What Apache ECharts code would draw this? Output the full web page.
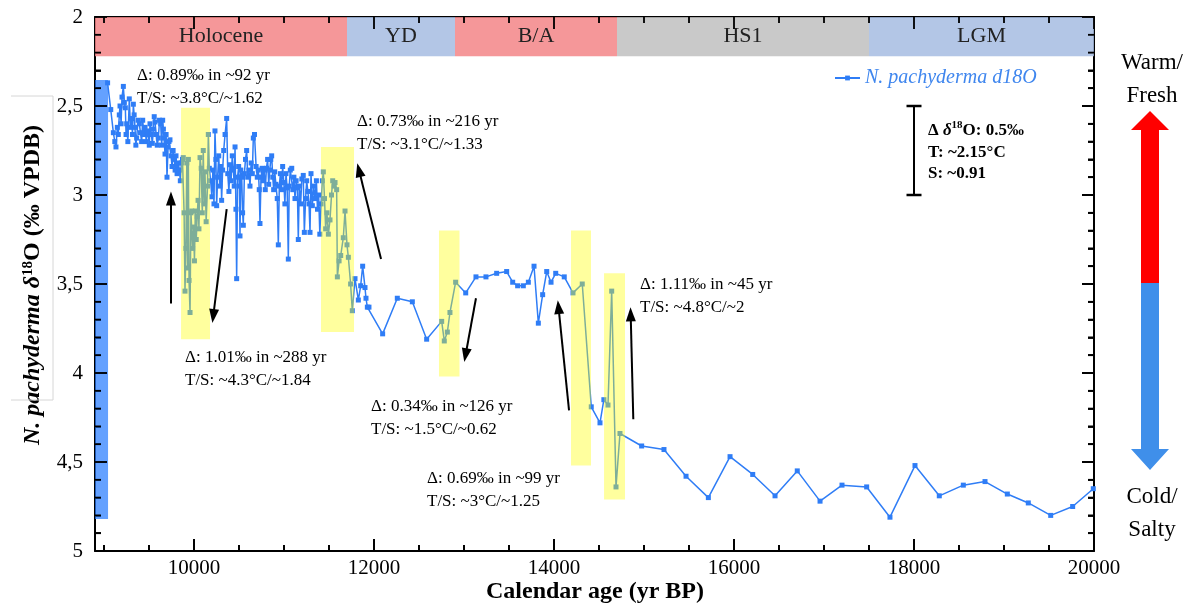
<!DOCTYPE html>
<html>
<head>
<meta charset="utf-8">
<script src="https://cdn.jsdelivr.net/npm/echarts@6/dist/echarts.min.js"></script>
<style>
  html, body { margin: 0; padding: 0; background: #fff; }
  #chart { width: 1194px; height: 610px; }
</style>
</head>
<body>
<div id="chart"></div>
<script>
// N. pachyderma d18O record: [calendar age (yr BP), d18O (permil VPDB)]
const record = [
  [9040,2.37],[9075,2.52],[9104,2.65],[9120,2.70],[9133,2.73],[9148,2.62],[9159,2.66],[9170,2.55],[9178,2.50],[9190,2.60],
  [9200,2.45],[9215,2.39],[9226,2.48],[9237,2.51],[9245,2.66],[9252,2.60],[9265,2.70],[9281,2.46],[9294,2.62],[9307,2.57],
  [9316,2.66],[9326,2.49],[9335,2.55],[9344,2.62],[9354,2.72],[9363,2.68],[9378,2.58],[9393,2.60],[9405,2.65],[9418,2.70],
  [9430,2.58],[9443,2.66],[9456,2.62],[9470,2.70],[9482,2.64],[9493,2.66],[9503,2.72],[9511,2.60],[9526,2.66],[9537,2.71],
  [9548,2.63],[9558,2.56],[9567,2.59],[9580,2.66],[9592,2.72],[9604,2.68],[9617,2.58],[9630,2.60],[9641,2.72],[9652,2.58],
  [9660,2.63],[9667,2.68],[9678,2.77],[9690,2.66],[9700,2.90],[9712,2.73],[9722,2.70],[9733,2.69],[9745,2.78],[9756,2.84],
  [9768,2.75],[9780,2.80],[9790,2.86],[9800,2.78],[9812,2.88],[9825,2.82],[9838,2.86],[9848,2.92],[9860,2.82],
  [9872,2.80],[9881,2.79],[9890,3.10],[9900,3.54],[9910,3.30],[9920,2.82],[9930,3.41],[9937,2.80],[9945,3.48],[9956,3.66],
  [9966,3.10],[9975,3.09],[9985,3.30],[9995,3.18],[10005,3.37],[10015,3.09],[10025,3.25],[10035,3.12],[10045,3.03],[10055,3.19],
  [10067,2.79],[10080,2.85],[10092,3.10],[10103,2.75],[10113,3.05],[10122,2.87],[10135,3.15],[10150,2.95],[10159,2.66],[10170,2.85],
  [10185,2.92],[10198,3.01],[10210,2.86],[10222,3.05],[10233,2.64],[10243,2.80],[10252,3.06],[10262,2.90],[10275,2.78],[10288,2.95],
  [10298,2.84],[10307,3.03],[10318,2.86],[10330,2.75],[10345,2.66],[10363,2.57],[10375,2.88],[10388,2.98],[10400,2.83],[10412,2.92],
  [10425,2.78],[10438,2.86],[10447,2.95],[10456,2.73],[10466,3.08],[10474,3.47],[10484,2.90],[10496,2.84],[10505,2.95],[10511,3.23],
  [10520,2.86],[10530,2.90],[10540,3.10],[10548,3.17],[10560,2.88],[10572,2.80],[10585,2.75],[10597,2.90],[10610,2.86],[10622,2.95],
  [10635,2.82],[10648,2.88],[10659,2.68],[10672,2.66],[10690,2.84],[10703,2.90],[10715,2.86],[10725,2.97],[10733,3.16],[10745,2.90],
  [10757,2.85],[10768,2.92],[10780,2.86],[10792,2.97],[10805,2.85],[10818,2.80],[10830,2.94],[10842,2.86],[10853,2.80],[10863,2.78],
  [10875,2.90],[10885,2.97],[10897,2.87],[10910,2.94],[10925,3.02],[10937,3.28],[10948,2.95],[10960,2.88],[10972,2.97],[10985,2.84],
  [10998,2.93],[11010,3.05],[11022,2.88],[11035,2.96],[11048,3.36],[11058,2.95],[11070,2.86],[11086,2.85],[11098,2.97],[11110,2.90],
  [11122,3.02],[11135,2.92],[11148,2.96],[11159,3.25],[11170,2.95],[11185,3.05],[11198,2.91],[11214,2.89],[11226,3.21],[11240,3.02],
  [11252,2.92],[11265,2.98],[11278,3.05],[11289,3.21],[11300,2.88],[11315,3.06],[11330,2.95],[11345,3.02],[11360,2.92],[11372,3.08],
  [11385,3.00],[11398,3.22],[11412,3.05],
  [11426,2.92],[11437,2.87],[11450,3.02],[11463,3.19],[11477,3.10],[11493,3.22],[11511,3.14],[11528,3.00],[11541,2.92],[11556,2.95],
  [11567,2.93],[11585,2.97],[11593,3.46],[11612,3.37],[11630,3.34],[11659,3.24],[11678,3.09],[11700,3.28],[11715,3.35],[11740,3.50],
  [11759,3.65],[11789,3.47],[11826,3.59],[11852,3.51],[11874,3.40],[11900,3.52],[11911,3.58],[11926,3.63],[11944,3.63],
  [12096,3.78],[12259,3.58],[12426,3.60],[12585,3.81],[12752,3.71],[12781,3.82],[12815,3.77],[12844,3.66],[12907,3.49],
  [13019,3.55],[13133,3.46],[13244,3.46],[13363,3.44],[13474,3.43],[13541,3.49],[13596,3.51],[13659,3.51],[13715,3.49],
  [13778,3.40],[13826,3.72],[13874,3.56],[13919,3.43],[13967,3.49],[14019,3.44],[14114,3.46],[14211,3.55],[14314,3.50],
  [14414,4.19],[14511,4.28],[14554,4.15],[14600,4.18],[14641,3.54],[14689,4.64],[14733,4.34],[14974,4.41],[15222,4.43],
  [15467,4.58],[15715,4.70],[15956,4.47],[16208,4.57],[16456,4.69],[16703,4.55],[16956,4.72],[17200,4.63],[17474,4.64],
  [17733,4.81],[18011,4.52],[18281,4.69],[18548,4.63],[18789,4.61],[19037,4.68],[19270,4.73],[19519,4.80],[19763,4.75],[19992,4.65]
];

// climate periods along the top
const periodNames = ['Holocene', 'YD', 'B/A', 'HS1', 'LGM'];
const periodEdges = [8900, 11700, 12900, 14700, 17500, 20000];

// highlighted transitions: [age from, age to, d18O top, d18O bottom]
const windows = [
  [9856, 10178, 2.51, 3.81],
  [11411, 11778, 2.73, 3.77],
  [12722, 12950, 3.20, 4.02],
  [14189, 14411, 3.20, 4.52],
  [14556, 14789, 3.44, 4.71]
];

// left range bar: [age from, age to, d18O top, d18O bottom]
const rangeBar = [8900, 9045, 2.354, 4.82];

// arrows: [age tail, d18O tail, age tip, d18O tip]
const arrows = [
  [9744, 3.61, 9744, 3.02],
  [10363, 3.08, 10214, 3.68],
  [12078, 3.36, 11833, 2.86],
  [13133, 3.58, 13017, 3.90],
  [14167, 4.21, 14050, 3.63],
  [14881, 4.26, 14852, 3.67]
];

// scale bar: 0.5 permil at 18000 yr
const scaleBar = [18000, 2.5, 3.0];

const notes = [
  'Δ: 0.89‰ in ~92 yr\nT/S: ~3.8°C/~1.62',
  'Δ: 0.73‰ in ~216 yr\nT/S: ~3.1°C/~1.33',
  'Δ: 1.01‰ in ~288 yr\nT/S: ~4.3°C/~1.84',
  'Δ: 0.34‰ in ~126 yr\nT/S: ~1.5°C/~0.62',
  'Δ: 0.69‰ in ~99 yr\nT/S: ~3°C/~1.25',
  'Δ: 1.11‰ in ~45 yr\nT/S: ~4.8°C/~2'
];
const notePos = [[137, 64], [357, 110], [185, 346], [371, 395], [427, 467], [640, 273]];

// tick positions
const majorAges = [10000, 12000, 14000, 16000, 18000, 20000];
const minorAges = [9000, 9500, 10500, 11000, 11500, 12500, 13000, 13500, 14500, 15000, 15500,
  16500, 17000, 17500, 18500, 19000, 19500];
const majorD18O = [2, 2.5, 3, 3.5, 4, 4.5, 5];
const minorD18O = [2.1, 2.2, 2.3, 2.4, 2.6, 2.7, 2.8, 2.9, 3.1, 3.2, 3.3, 3.4, 3.6, 3.7, 3.8, 3.9,
  4.1, 4.2, 4.3, 4.4, 4.6, 4.7, 4.8, 4.9];

const serif = 'Liberation Serif';
const xMin = 8900, xMax = 20000, yMin = 2, yMax = 5;
const chart = echarts.init(document.getElementById('chart'));

function xAx(pos, ticks, len, withLine) {
  return {
    type: 'value', position: pos, min: xMin, max: xMax,
    axisLine: { show: withLine, lineStyle: { color: '#000', width: 2 } },
    axisTick: { show: true, inside: true, length: len, customValues: ticks, lineStyle: { color: '#000', width: 1.8 } },
    axisLabel: { show: false },
    splitLine: { show: false }
  };
}
function yAx(pos, labels) {
  return {
    type: 'value', position: pos, inverse: true, min: yMin, max: yMax, interval: 0.5,
    axisLine: { show: true, lineStyle: { color: '#000', width: 2 } },
    axisTick: { show: true, inside: true, length: 12, lineStyle: { color: '#000', width: 1.8 } },
    minorTick: { show: true, splitNumber: 5, length: 6, lineStyle: { color: '#000', width: 1.8 } },
    axisLabel: {
      show: labels, margin: 12, fontFamily: serif, fontSize: 21, color: '#000',
      formatter: v => String(v).replace('.', ',')
    },
    splitLine: { show: false }
  };
}

const bottomX = xAx('bottom', majorAges, 12, true);
bottomX.axisLabel = {
  show: true, customValues: majorAges, margin: 7, fontFamily: serif, fontSize: 21, color: '#000',
  formatter: v => String(v)
};

const bandColors = ['rgba(243,133,135,0.85)', 'rgba(166,188,226,0.85)', 'rgba(243,133,135,0.85)',
  'rgba(192,192,192,0.85)', 'rgba(166,188,226,0.85)'];

const bandData = periodNames.map((n, i) => [
  { name: n, xAxis: periodEdges[i], yAxis: 2, itemStyle: { color: bandColors[i] } },
  { xAxis: periodEdges[i + 1], yAxis: 2.22 }
]);
bandData.push([
  { name: ' ', xAxis: rangeBar[0], yAxis: rangeBar[2], itemStyle: { color: 'rgba(40,125,255,0.72)' } },
  { xAxis: rangeBar[1], yAxis: rangeBar[3] }
]);

const arrowData = arrows.map(a => [
  { coord: [a[0], a[1]], symbol: 'none' },
  { coord: [a[2], a[3]], symbol: 'triangle', symbolSize: [10, 14] }
]);
arrowData.push([
  { coord: [scaleBar[0], scaleBar[2]], symbol: 'rect', symbolSize: [15, 2.5] },
  { coord: [scaleBar[0], scaleBar[1]], symbol: 'rect', symbolSize: [15, 2.5] }
]);

const graphics = notes.map((t, i) => ({
  type: 'text', x: notePos[i][0], y: notePos[i][1], silent: true,
  style: { text: t, fontFamily: serif, fontSize: 17, lineHeight: 23, fill: '#000' }
}));

graphics.push({
  type: 'text', x: 928, y: 120, silent: true,
  style: {
    text: '{b|Δ }{bi|δ}{sup|18}{b|O: 0.5‰}\n{b|T: ~2.15°C}\n{b|S: ~0.91}',
    fontFamily: serif, fontSize: 17, fontWeight: 'bold', fill: '#000', lineHeight: 21.5,
    rich: {
      b: { fontFamily: serif, fontSize: 17, fontWeight: 'bold', lineHeight: 21.5 },
      bi: { fontFamily: serif, fontSize: 17, fontWeight: 'bold', fontStyle: 'italic', lineHeight: 21.5 },
      sup: { fontFamily: serif, fontSize: 11, fontWeight: 'bold', lineHeight: 21.5, verticalAlign: 'top', padding: [0, 0, 6, 0] }
    }
  }
});

// axis titles
graphics.push({
  type: 'text', x: 33, y: 285, rotation: Math.PI / 2, silent: true,
  style: {
    text: '{bi|N. pachyderma δ}{sup|18}{b|O (‰ VPDB)}',
    align: 'center', verticalAlign: 'middle',
    rich: {
      bi: { fontFamily: serif, fontSize: 24, fontWeight: 'bold', fontStyle: 'italic' },
      b: { fontFamily: serif, fontSize: 24, fontWeight: 'bold' },
      sup: { fontFamily: serif, fontSize: 15, fontWeight: 'bold', verticalAlign: 'top', padding: [0, 0, 9, 0] }
    }
  }
});
graphics.push({
  type: 'text', x: 595, y: 592, silent: true,
  style: { text: 'Calendar age (yr BP)', align: 'center', verticalAlign: 'middle', fontFamily: serif, fontSize: 24, fontWeight: 'bold', fill: '#000' }
});
graphics.push({
  type: 'polyline', silent: true,
  shape: { points: [[11, 96], [53, 96], [53, 400], [11, 400]] },
  style: { stroke: '#d6d6d6', lineWidth: 1, fill: null }
});

// warm/fresh vs cold/salty arrow on the right
graphics.push(
  { type: 'polygon', silent: true, shape: { points: [[1131, 130], [1150, 111], [1169, 130], [1159, 130], [1159, 283], [1141, 283], [1141, 130]] }, style: { fill: '#ff0000' } },
  { type: 'polygon', silent: true, shape: { points: [[1141, 283], [1159, 283], [1159, 449], [1169, 449], [1150, 470], [1131, 449], [1141, 449]] }, style: { fill: '#3f8fea' } },
  { type: 'text', x: 1152, y: 46, silent: true, style: { text: 'Warm/\nFresh', align: 'center', fontFamily: serif, fontSize: 23, lineHeight: 33, fill: '#000' } },
  { type: 'text', x: 1152, y: 480, silent: true, style: { text: 'Cold/\nSalty', align: 'center', fontFamily: serif, fontSize: 23, lineHeight: 33, fill: '#000' } }
);

chart.setOption({
  animation: false,
  textStyle: { fontFamily: serif },
  grid: { left: 95, right: 100, top: 17, bottom: 59 },
  legend: {
    data: ['N. pachyderma d18O'], left: 829, top: 63,
    itemWidth: 25, itemHeight: 6,
    textStyle: { fontFamily: serif, fontSize: 20, fontStyle: 'italic', color: '#3f86ee' }
  },
  xAxis: [bottomX, xAx('bottom', minorAges, 6, false), xAx('top', majorAges, 12, true), xAx('top', minorAges, 6, false)],
  yAxis: [yAx('left', true), yAx('right', false)],
  series: [
    {
      name: 'bands', type: 'line', data: [],
      markArea: {
        z: 1,
        label: { show: true, position: 'inside', fontFamily: serif, fontSize: 22, color: '#222' },
        data: bandData
      }
    },
    {
      name: 'N. pachyderma d18O', type: 'line', data: record, z: 2,
      symbol: 'rect', symbolSize: 5,
      lineStyle: { color: '#2f7df6', width: 1.5 },
      itemStyle: { color: '#2f7df6' }
    },
    {
      name: 'windows', type: 'line', data: [],
      markArea: {
        z: 3,
        itemStyle: { color: 'rgba(255,255,0,0.38)' },
        data: windows.map(w => [{ xAxis: w[0], yAxis: w[2] }, { xAxis: w[1], yAxis: w[3] }])
      }
    },
    {
      name: 'arrows', type: 'line', data: [],
      markLine: {
        z: 5,
        label: { show: false },
        lineStyle: { color: '#000', width: 2, type: 'solid' },
        data: arrowData
      }
    }
  ],
  graphic: graphics
});

// inward tick marks on all four sides, placed through the axis scales
const toPx = (v) => chart.convertToPixel({ xAxisIndex: 0, yAxisIndex: 0 }, v);
const tickGraphics = [];
function addTick(p, dx, dy) {
  tickGraphics.push({
    type: 'line', silent: true, z: 20,
    shape: { x1: p[0], y1: p[1], x2: p[0] + dx, y2: p[1] + dy },
    style: { stroke: '#000', lineWidth: 1.8 }
  });
}
[[majorAges, 12], [minorAges, 6]].forEach(([vals, len]) => vals.forEach(v => {
  addTick(toPx([v, yMax]), 0, -len);
  addTick(toPx([v, yMin]), 0, len);
}));
[[majorD18O, 12], [minorD18O, 6]].forEach(([vals, len]) => vals.forEach(v => {
  addTick(toPx([xMin, v]), len, 0);
  addTick(toPx([xMax, v]), -len, 0);
}));
chart.setOption({ graphic: graphics.concat(tickGraphics) });
</script>
</body>
</html>
